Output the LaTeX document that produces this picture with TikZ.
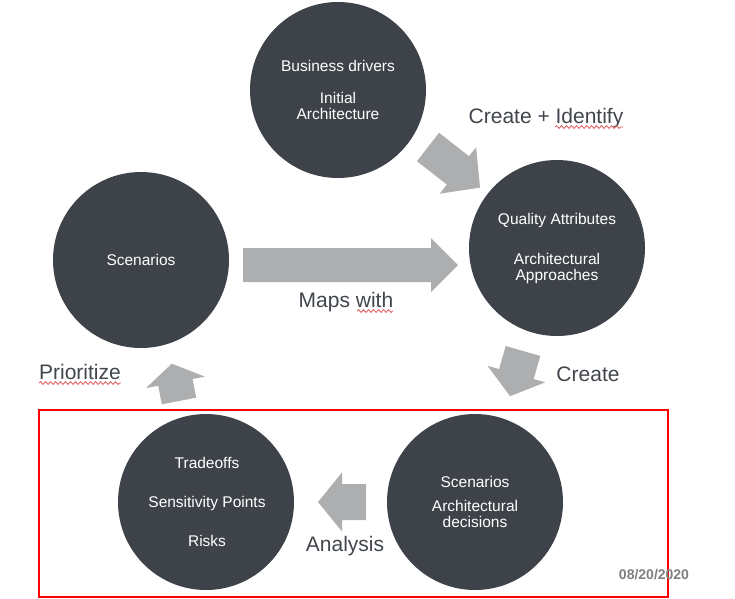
\documentclass[tikz,border=0pt]{standalone}
\usepackage{fontspec}
\setmainfont{Liberation Sans}
\usetikzlibrary{decorations.pathmorphing}
\definecolor{discgray}{HTML}{3E434A}
\definecolor{arrowgray}{HTML}{ADAEB0}
\definecolor{labelgray}{HTML}{41464C}
\definecolor{squiggle}{HTML}{E05A5A}
\definecolor{dategray}{HTML}{7F7F7F}
\definecolor{framered}{HTML}{FF0000}
\tikzset{
  disc/.style={circle, fill=discgray, minimum size=176pt, inner sep=0pt},
  intext/.style={text=white, font=\fontsize{15.5}{18}\selectfont, anchor=base, inner sep=0pt},
  lbl/.style={text=labelgray, font=\fontsize{21}{25}\selectfont, anchor=base, inner sep=0pt},
  wavy/.style={draw=squiggle, line width=0.8pt, decorate, decoration={snake, amplitude=1.4pt, segment length=5pt}},
  pics/fatarrow/.style n args={4}{code={
    \fill[arrowgray] (0,{-#2/2}) -- ({#1-#4},{-#2/2}) -- ({#1-#4},{-#3/2}) -- (#1,0)
      -- ({#1-#4},{#3/2}) -- ({#1-#4},{#2/2}) -- (0,{#2/2}) -- cycle;
  }}
}
\begin{document}
\begin{tikzpicture}[x=1pt,y=-1pt]
\useasboundingbox (0,0) rectangle (735,598);

% discs
\node[disc] (drivers) at (338,90) {};
\node[disc] (quality) at (557,248) {};
\node[disc] (scen) at (141,260) {};
\node[disc] (trade) at (206,502) {};
\node[disc] (decis) at (475,502) {};

% disc texts
\node[intext] (t1a) at (338,71) {Business drivers};
\node[intext] (t1b) at (338,103) {Initial};
\node[intext] (t1c) at (338,119) {Architecture};
\node[intext] (t2a) at (557,224) {Quality Attributes};
\node[intext] (t2b) at (557,264) {Architectural};
\node[intext] (t2c) at (557,280) {Approaches};
\node[intext] (t3a) at (141,265) {Scenarios};
\node[intext] (t4a) at (207,468) {Tradeoffs};
\node[intext] (t4b) at (207,507) {Sensitivity Points};
\node[intext] (t4c) at (207,546) {Risks};
\node[intext] (t5a) at (475,487) {Scenarios};
\node[intext] (t5b) at (475,511) {Architectural};
\node[intext] (t5c) at (475,527) {decisions};

% block arrows
\pic[rotate=-38] at (428,147) {fatarrow={66}{36}{59}{28}};
\pic at (243,265) {fatarrow={215}{34}{54}{27}};
\pic[rotate=-106] at (523,351) {fatarrow={47}{36}{60}{23}};
\pic[rotate=101] at (179,401) {fatarrow={38}{35}{60}{19}};
\pic[rotate=180] at (366,502) {fatarrow={48}{36}{59}{24}};

% labels
\node[lbl] (create1) at (546,123) {Create + Identify};
\node[lbl] (maps) at (346,307) {Maps with};
\node[lbl] (create2) at (588,381) {Create};
\node[lbl] (prio) at (80,379) {Prioritize};
\node[lbl] (anal) at (345,551) {Analysis};

% spell-check squiggles
\draw[wavy] (555,127) -- (623,127);
\draw[wavy] (357,311) -- (393,311);
\draw[wavy] (39,383) -- (121,383);

% red frame
\draw[framered, line width=2pt] (39,410) rectangle (668,597);

% date
\node[text=dategray, font=\bfseries\fontsize{14}{16}\selectfont, anchor=base, inner sep=0pt] (date) at (654,579) {08/20/2020};
\end{tikzpicture}
\end{document}
